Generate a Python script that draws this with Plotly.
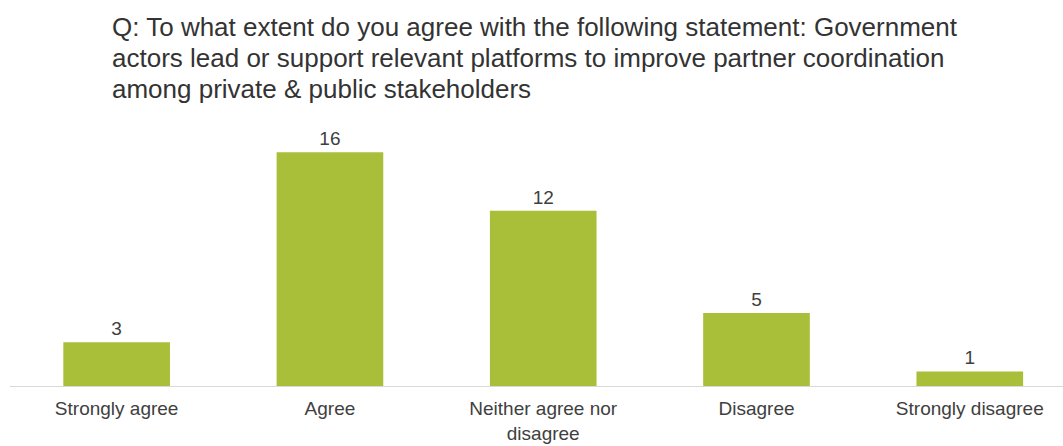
import plotly.graph_objects as go

categories = ["Strongly agree", "Agree", "Neither agree nor<br>disagree", "Disagree", "Strongly disagree"]
values = [3, 16, 12, 5, 1]
title_lines = [
    "Q: To what extent do you agree with the following statement: Government",
    "actors lead or support relevant platforms to improve partner coordination",
    "among private & public stakeholders",
]

BAR = "#A9BF3A"
TXT = "#404040"
FONT = "Liberation Sans, Arial, sans-serif"

fig = go.Figure(go.Bar(
    x=list(range(len(categories))), y=values, width=0.5,
    marker=dict(color=BAR, line=dict(width=0)),
    text=[str(v) for v in values], textposition="outside",
    textfont=dict(family=FONT, size=19, color=TXT),
    cliponaxis=False,
))

title_y = [27, 58, 89]
for line, yy in zip(title_lines, title_y):
    fig.add_annotation(text=line, xref="paper", yref="paper", x=0, xanchor="left",
                       xshift=100, y=1, yshift=145 - yy, yanchor="middle", showarrow=False,
                       font=dict(family=FONT, size=26, color="#333333"))

fig.update_layout(
    width=1063, height=446,
    margin=dict(l=10, r=0, t=145, b=60, autoexpand=False),
    paper_bgcolor="white", plot_bgcolor="white",
    showlegend=False,
    xaxis=dict(tickmode="array", tickvals=list(range(len(categories))), ticktext=categories,
               range=[-0.5, 4.437], showgrid=False, zeroline=False, automargin=False,
               showline=True, linecolor="#d9d9d9", linewidth=1,
               ticks="outside", ticklen=5, tickcolor="rgba(0,0,0,0)",
               tickfont=dict(family=FONT, size=19, color=TXT), tickangle=0),
    yaxis=dict(range=[0, 16.5], visible=False, automargin=False),
)
fig.write_html("out.html")
